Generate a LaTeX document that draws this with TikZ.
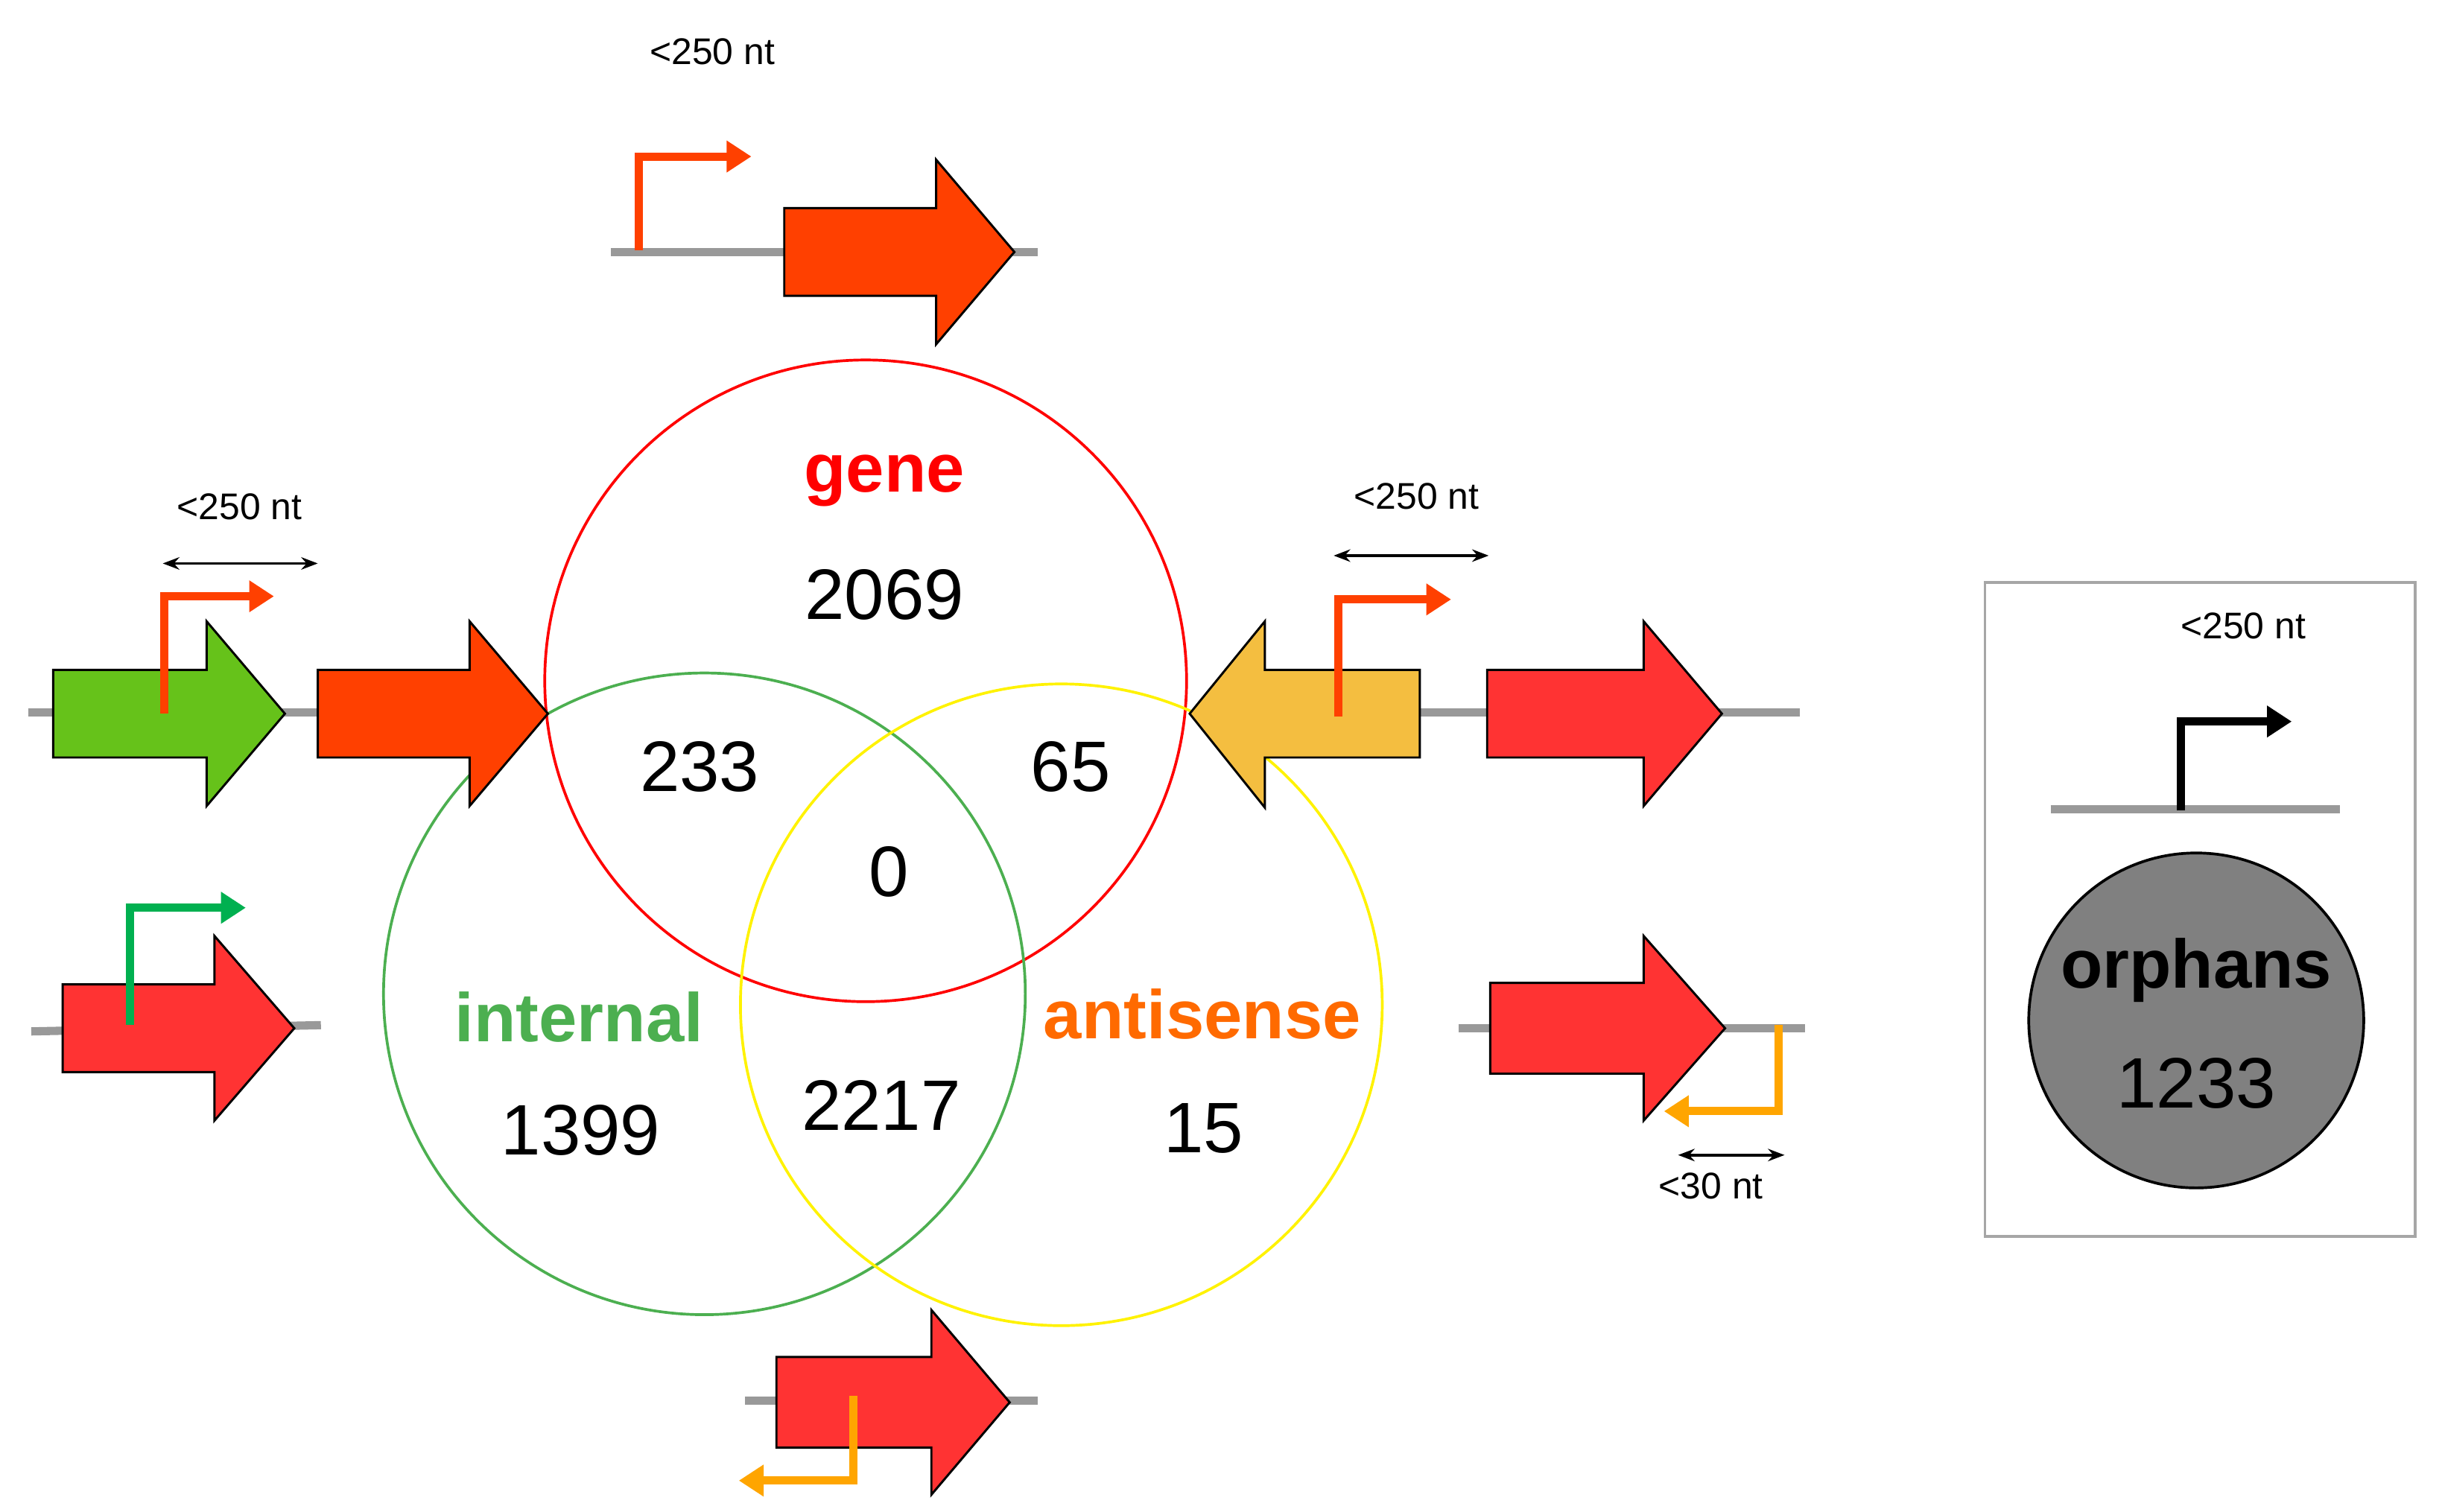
\documentclass[tikz,border=0pt]{standalone}
\usepackage{fontspec}
\setmainfont{Liberation Sans}
\usetikzlibrary{arrows.meta}
\definecolor{ored}{HTML}{FF4000}
\definecolor{bred}{HTML}{FF3333}
\definecolor{bgreen}{HTML}{66C21A}
\definecolor{byel}{HTML}{F4BE40}
\definecolor{pgreen}{HTML}{00B050}
\definecolor{porange}{HTML}{FFA500}
\definecolor{vgreen}{HTML}{4CAF50}
\definecolor{vorange}{HTML}{FF6A00}
\tikzset{
 dna/.style={draw=gray!80,line width=3pt},
 blk/.style={draw=black,line width=0.8pt},
 prom/.style={line width=3pt,-{Triangle[length=9pt,width=11pt]}},
 dim/.style={line width=1pt,{Stealth[length=6pt]}-{Stealth[length=6pt]}},
 small/.style={font=\fontsize{13.5}{16}\selectfont},
 num/.style={font=\fontsize{26}{30}\selectfont},
 lab/.style={font=\fontsize{25}{30}\selectfont\bfseries},
}
% right arrow: x1 x2 x3 yc halfshaft halfhead color
\newcommand\rarr[7]{\fill[#7,blk] (#1,#4-#5)--(#2,#4-#5)--(#2,#4-#6)--(#3,#4)--(#2,#4+#6)--(#2,#4+#5)--(#1,#4+#5)--cycle;}
\begin{document}
\begin{tikzpicture}[x=0.02cm,y=-0.02cm]
\useasboundingbox (0,0) rectangle (1560,966);
% venn
\draw[red,line width=1pt] (553,435) circle (205);
\draw[vgreen,line width=1pt] (450,635) circle (205);
\draw[yellow,line width=1pt] (678,642) circle (205);
\node[lab,text=red] (tg) at (565,307) {gene};
\node[num] (n1) at (565,380) {2069};
\node[num] (n2) at (447,490) {233};
\node[num] (n3) at (684,490) {65};
\node[num] (n4) at (568,557) {0};
\node[lab,text=vgreen] (ti) at (370,650) {internal};
\node[num] (n5) at (371,722) {1399};
\node[num] (n6) at (563,706) {2217};
\node[lab,text=vorange] (ta) at (768,648) {antisense};
\node[num] (n7) at (769,721) {15};
% top
\draw[dna] (390,161)--(663,161);
\rarr{501}{598}{648}{161}{28}{59}{ored}
\draw[prom,ored] (408,160)--(408,100)--(480,100);
\node[small] (l1) at (455,33) {<250 nt};
% left row
\draw[dna] (18,455)--(210,455);
\rarr{34}{132}{182}{456}{28}{59}{bgreen}
\rarr{203}{300}{350}{456}{28}{59}{ored}
\draw[prom,ored] (105,456)--(105,381)--(175,381);
\draw[dim] (104,360)--(203,360);
\node[small] (l2) at (153,324) {<250 nt};
% left lower
\draw[dna] (20,659)--(205,655);
\rarr{40}{137}{188}{657}{28}{59}{bred}
\draw[prom,pgreen] (83,655)--(83,580)--(157,580);
% right row
\draw[dna] (900,455)--(1150,455);
\fill[byel,blk] (907,428)--(808,428)--(808,397)--(760,456)--(808,516)--(808,484)--(907,484)--cycle;
\rarr{950}{1050}{1100}{456}{28}{59}{bred}
\draw[prom,ored] (855,458)--(855,383)--(927,383);
\draw[dim] (852,355)--(951,355);
\node[small] (l3) at (905,317) {<250 nt};
% right lower
\draw[dna] (932,657)--(1153,657);
\rarr{952}{1050}{1102}{657}{29}{59}{bred}
\draw[prom,porange] (1136,655)--(1136,710)--(1063,710);
\draw[dim] (1072,738)--(1140,738);
\node[small] (l4) at (1093,758) {<30 nt};
% bottom
\draw[dna] (476,895)--(663,895);
\rarr{496}{595}{645}{896}{29}{59}{bred}
\draw[prom,porange] (545,892)--(545,946)--(472,946);
% orphans box
\draw[gray!70,line width=1pt] (1268,372) rectangle (1543,790);
\node[small] (l5) at (1433,400) {<250 nt};
\draw[dna] (1310,517)--(1495,517);
\draw[prom,black] (1393,518)--(1393,461)--(1464,461);
\fill[gray,draw=black,line width=1pt] (1403,652) circle (107);
\node[lab] (to) at (1403,620) {orphans};
\node[num] (n8) at (1403,692) {1233};
\end{tikzpicture}
\end{document}
